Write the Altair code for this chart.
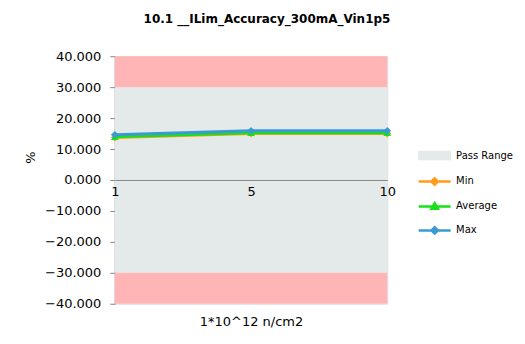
import altair as alt
import pandas as pd

# ---- data ----
categories = ["1", "5", "10"]
series_names = ["Min", "Average", "Max"]
min_vals = [13.7, 15.0, 15.0]
avg_vals = [14.0, 15.3, 15.3]
max_vals = [14.6, 15.9, 15.9]
series_colors = ["#FF9C1A", "#19E019", "#3A9AD2"]
series_shapes = ["diamond", "triangle-up", "diamond"]

legend_names = ["Pass Range", "Min", "Average", "Max"]
pass_color = "#E4EAEA"
fail_color = "#FFB5B5"
pass_low, pass_high = -30, 30
y_min, y_max = -40, 40
y_ticks = [-40, -30, -20, -10, 0, 10, 20, 30, 40]

title_text = "10.1 __ILim_Accuracy_300mA_Vin1p5"
x_title = "1*10^12 n/cm2"
y_title = "%"

FONT = "DejaVu Sans"
W, H = 273, 248

rows = []
for name, vals in zip(series_names, [min_vals, avg_vals, max_vals]):
    for c, v in zip(categories, vals):
        rows.append({"x": c, "series": name, "value": v})
df = pd.DataFrame(rows)

pass_df = pd.DataFrame({"x": [categories[0]], "x2": [categories[-1]],
                        "lo": [pass_low], "hi": [pass_high]})
fail_df = pd.DataFrame({"x": [categories[0]] * 2, "x2": [categories[-1]] * 2,
                        "lo": [pass_high, y_min], "hi": [y_max, pass_low]})

xscale = alt.Scale(type="point", padding=0, domain=categories)
yscale = alt.Scale(domain=[y_min, y_max], nice=False, zero=False)

xaxis = alt.Axis(offset=-H / 2, ticks=False, labelAngle=0, labelPadding=6,
                 domainColor="#868686", labelFont=FONT, labelFontSize=13,
                 labelColor="black", title=x_title, titleFont=FONT,
                 titleFontSize=13, titleFontWeight="normal", titleColor="black",
                 titleX=W / 2, titleY=142, titleAlign="center",
                 titleBaseline="middle", grid=False, labelOverlap=False)
yaxis = alt.Axis(values=y_ticks, tickCount=9, format=".3f", grid=False, tickSize=5,
                 labelPadding=9, domainColor="#868686", tickColor="#868686",
                 labelFont=FONT, labelFontSize=13, labelColor="black",
                 labelOverlap=False, labelBound=False, labelFlush=False,
                 title=y_title, titleFont=FONT, titleFontSize=13,
                 titleFontWeight="normal", titleColor="black", titleX=-84,
                 titleY=101, titleAlign="center", titleBaseline="middle",
                 titleAngle=270)

pass_band = alt.Chart(pass_df).mark_rect(color=pass_color).encode(
    x=alt.X("x:O", scale=xscale, axis=xaxis),
    x2="x2:O",
    y=alt.Y("lo:Q", scale=yscale, axis=yaxis),
    y2="hi:Q",
)
fail_band = alt.Chart(fail_df).mark_rect(color=fail_color).encode(
    x=alt.X("x:O", scale=xscale, axis=xaxis),
    x2="x2:O",
    y=alt.Y("lo:Q", scale=yscale, axis=yaxis),
    y2="hi:Q",
)

layers = [pass_band, fail_band]
for name, col, shp in zip(series_names, series_colors, series_shapes):
    sub = df[df["series"] == name]
    base = alt.Chart(sub).encode(
        x=alt.X("x:O", scale=xscale, sort=categories, axis=xaxis),
        y=alt.Y("value:Q", scale=yscale, axis=yaxis),
    )
    layers.append(base.mark_line(color=col, strokeWidth=3))
    layers.append(base.mark_point(filled=True, color=col, shape=shp,
                                  size=60, opacity=1))

# legend-only layer (no marks drawn)
line_path = "M-1,0L7,0"
legend_paths = [
    "M-0.8,-0.9L6.8,-0.9L6.8,0.9L-0.8,0.9Z",
    line_path + "M3,-0.8L3.8,0L3,0.8L2.2,0Z",
    line_path + "M3,-0.8L3.8,0.6L2.2,0.6Z",
    line_path + "M3,-0.8L3.8,0L3,0.8L2.2,0Z",
]
legend_colors = [pass_color] + series_colors
leg = alt.Legend(title=None, orient="none", legendX=303, legendY=94,
                 symbolSize=64, symbolStrokeWidth=2.5, labelOffset=28,
                 rowPadding=8, labelFont=FONT, labelFontSize=10,
                 labelColor="black", symbolOpacity=1)
legend_layer = alt.Chart(pd.DataFrame({"series": legend_names})).transform_filter(
    "false").mark_point(filled=True, strokeWidth=2.5, opacity=1).encode(
    fill=alt.Fill("series:N", scale=alt.Scale(domain=legend_names, range=legend_colors), legend=leg),
    stroke=alt.Stroke("series:N", scale=alt.Scale(domain=legend_names, range=legend_colors), legend=leg),
    shape=alt.Shape("series:N", scale=alt.Scale(domain=legend_names, range=legend_paths), legend=leg),
)
layers.append(legend_layer)

chart = alt.layer(*layers).properties(
    width=W, height=H,
    title=alt.TitleParams(title_text, font=FONT, fontSize=12, fontWeight="bold",
                          anchor="middle", dx=16, offset=24, color="black"),
    autosize=alt.AutoSizeParams(type="none"),
    padding={"left": 107, "top": 48, "right": 130, "bottom": 30},
).configure_view(stroke=None).configure(background="white")

chart.save("out.html", embed_options={"renderer": "svg", "actions": False})
